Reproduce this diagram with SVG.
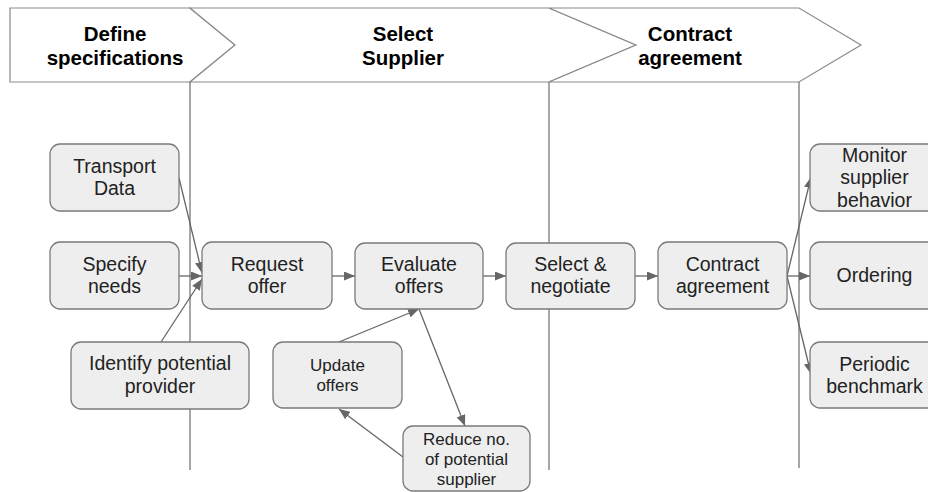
<svg xmlns="http://www.w3.org/2000/svg" width="928" height="492" viewBox="0 0 928 492">
<style>
.hdr{fill:#fff;stroke:#8a8a8a;stroke-width:1.2}
.ht{font-family:"Liberation Sans",Arial,sans-serif;font-weight:bold;font-size:20.5px;fill:#000;text-anchor:middle}
.lane{stroke:#777;stroke-width:1.3;fill:none}
.node rect{fill:#eeeeee;stroke:#7a7a7a;stroke-width:1.3}
.node text{font-family:"Liberation Sans",Arial,sans-serif;font-size:19.5px;fill:#222;text-anchor:middle}
.node text.sm{font-size:17px}
.conn path{stroke:#666;stroke-width:1.3;fill:none;marker-end:url(#arr)}
</style>
<defs>
<marker id="arr" markerWidth="11" markerHeight="9" refX="11" refY="4.5" orient="auto" markerUnits="userSpaceOnUse">
<path d="M0,0 L11,4.5 L0,9 z" fill="#666"/>
</marker>
</defs>
<rect width="928" height="492" fill="#fff"/>
<g id="header">
<polygon class="hdr" points="10,8 190,8 235,45 190,82 10,82"/>
<polygon class="hdr" points="190,8 549,8 636,45 549,82 190,82 235,45"/>
<polygon class="hdr" points="549,8 799,8 861,45 799,82 549,82 636,45"/>
<text class="ht" x="115" y="41">Define</text>
<text class="ht" x="115" y="65">specifications</text>
<text class="ht" x="403" y="41">Select</text>
<text class="ht" x="403" y="65">Supplier</text>
<text class="ht" x="690" y="41">Contract</text>
<text class="ht" x="690" y="65">agreement</text>
</g>
<g id="lanes">
<line class="lane" x1="190" y1="82" x2="190" y2="470"/>
<line class="lane" x1="549" y1="82" x2="549" y2="470"/>
<line class="lane" x1="799" y1="82" x2="799" y2="468"/>
</g>
<g id="connectors" class="conn">
<path d="M179,178 L202,273"/>
<path d="M179,276 L202,276"/>
<path d="M161,342 L202,279"/>
<path d="M332,276 L355,276"/>
<path d="M483,276 L506,276"/>
<path d="M635,276 L658,276"/>
<path d="M787,276 L811,177"/>
<path d="M787,276 L810,276"/>
<path d="M787,276 L811,374"/>
<path d="M339,342 L419,309"/>
<path d="M419,309 L465,426"/>
<path d="M403,457 L339,409"/>
</g>
<g id="transport" class="node"><rect x="50" y="144" width="129" height="67" rx="10"/><text x="114.5" y="173">Transport</text><text x="114.5" y="195">Data</text></g>
<g id="specify" class="node"><rect x="50" y="242" width="129" height="67" rx="10"/><text x="114.5" y="271">Specify</text><text x="114.5" y="293">needs</text></g>
<g id="identify" class="node"><rect x="71" y="342" width="178" height="67" rx="10"/><text x="160" y="370">Identify potential</text><text x="160" y="393">provider</text></g>
<g id="request" class="node"><rect x="202" y="242" width="130" height="67" rx="10"/><text x="267" y="271">Request</text><text x="267" y="293">offer</text></g>
<g id="evaluate" class="node"><rect x="355" y="243" width="128" height="66" rx="10"/><text x="419" y="271">Evaluate</text><text x="419" y="293">offers</text></g>
<g id="update" class="node"><rect x="273" y="342" width="129" height="66" rx="10"/><text class="sm" x="337.5" y="371">Update</text><text class="sm" x="337.5" y="391">offers</text></g>
<g id="reduce" class="node"><rect x="403" y="426" width="127" height="65" rx="10"/><text class="sm" x="466.5" y="445">Reduce no.</text><text class="sm" x="466.5" y="465">of potential</text><text class="sm" x="466.5" y="485">supplier</text></g>
<g id="select" class="node"><rect x="506" y="243" width="129" height="66" rx="10"/><text x="570.5" y="271">Select &amp;</text><text x="570.5" y="293">negotiate</text></g>
<g id="contract" class="node"><rect x="658" y="242" width="129" height="67" rx="10"/><text x="722.5" y="271">Contract</text><text x="722.5" y="293">agreement</text></g>
<g id="monitor" class="node"><rect x="810" y="144" width="129" height="67" rx="10"/><text x="874.5" y="162">Monitor</text><text x="874.5" y="184">supplier</text><text x="874.5" y="207">behavior</text></g>
<g id="ordering" class="node"><rect x="810" y="242" width="129" height="67" rx="10"/><text x="874.5" y="282">Ordering</text></g>
<g id="periodic" class="node"><rect x="810" y="342" width="129" height="66" rx="10"/><text x="874.5" y="371">Periodic</text><text x="874.5" y="393">benchmark</text></g>
</svg>
